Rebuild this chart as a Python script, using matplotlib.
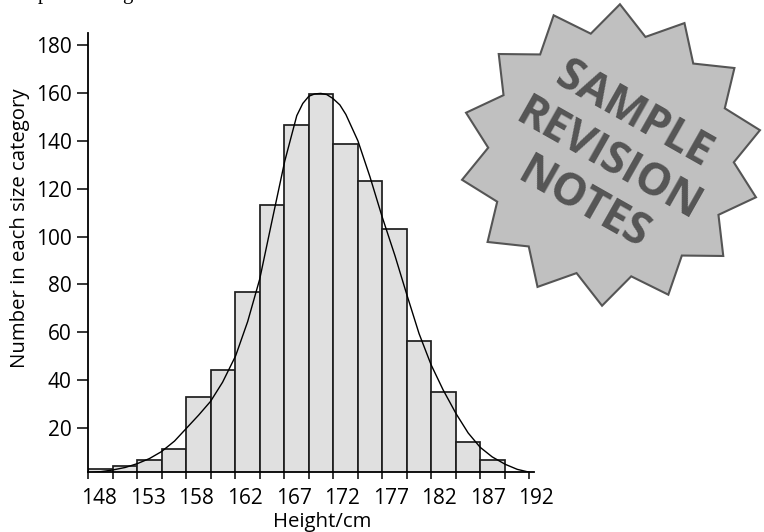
import numpy as np
import matplotlib
matplotlib.use("Agg")
import matplotlib.pyplot as plt
from matplotlib.patches import Polygon
from matplotlib.transforms import ScaledTranslation

# ---------------- data ----------------
bin_edges = [148.0, 150.44, 152.89, 155.33, 157.78, 160.22, 162.67, 165.11,
             167.56, 170.0, 172.44, 174.89, 177.33, 179.78, 182.22, 184.67,
             187.11, 189.56, 192.0]
counts = [2.9, 4.1, 6.5, 11.4, 33.2, 44.1, 76.8, 113.4, 146.5, 159.5,
          138.8, 123.3, 103.0, 56.5, 35.0, 14.3, 6.9]
x_tick_labels = ["148", "153", "158", "162", "167", "172", "177", "182", "187", "192"]
y_ticks = [20, 40, 60, 80, 100, 120, 140, 160, 180]

# fitted curve, points
curve_height = [148.0, 149.2, 150.4, 151.7, 152.9, 154.1, 155.3, 156.6, 157.8,
                159.0, 160.2, 161.4, 162.7, 163.9, 165.1, 166.3, 167.6, 168.8,
                169.4, 170.0, 170.6, 171.2, 171.8, 172.4, 173.1, 173.7, 174.9,
                176.1, 177.3, 178.6, 179.8, 181.0, 182.2, 183.4, 184.7, 185.9,
                187.1, 188.3, 189.6, 190.8, 192.0]
curve_count = [1.3, 1.8, 2.5, 3.6, 5.2, 7.3, 10.2, 14.6, 20.0,
               25.4, 31.2, 39.2, 50.2, 64.5, 82.2, 106.0, 131.5, 150.5,
               155.6, 158.6, 159.6, 159.8, 159.3, 157.7, 155.0, 151.0, 140.0,
               125.0, 108.5, 92.0, 75.5, 59.5, 46.5, 36.0, 26.0, 18.0,
               12.0, 8.0, 4.9, 2.8, 1.6]

x_label = "Height/cm"
y_label = "Number in each size category"
badge_text = "SAMPLE\nREVISION\nNOTES"

# ---------------- figure ----------------
W, H = 764, 532
plt.rcParams['font.family'] = ['Open Sans', 'DejaVu Sans']
fig = plt.figure(figsize=(W / 100, H / 100), dpi=100)
fig.patch.set_facecolor('white')

ax_left, ax_right, ax_top, ax_bottom = 88.3, 534.0, 33.3, 471.5
ax = fig.add_axes([ax_left / W, (H - ax_bottom) / H,
                   (ax_right - ax_left) / W, (ax_bottom - ax_top) / H])

n_bars = len(counts)
lefts = bin_edges[:n_bars]
widths = np.diff(bin_edges)[:n_bars]
ax.bar(lefts, counts, width=widths, align='edge',
       facecolor='#e0e0e0', edgecolor='#1e1e1e', linewidth=1.25, zorder=2)
ax.plot(curve_height, curve_count, color='black', linewidth=1.0, zorder=3,
        solid_joinstyle='round', antialiased=True)

ax.set_xlim(148.0, 192.47)
ax.set_ylim(1.9, 184.9)

for s in ['top', 'right']:
    ax.spines[s].set_visible(False)
for s in ['left', 'bottom']:
    ax.spines[s].set_linewidth(1.3)
    ax.spines[s].set_color('black')
    ax.spines[s].set_zorder(4)

ax.set_xticks(bin_edges[::2])
ax.set_xticklabels(x_tick_labels)
ax.set_xticks(bin_edges[1::2], minor=True)
ax.set_yticks(y_ticks)
ax.set_yticklabels([str(v) for v in y_ticks])

ax.tick_params(axis='x', which='both', direction='out', length=5, width=1.1,
               colors='black', labelsize=15, pad=7)
ax.tick_params(axis='y', which='both', direction='out', length=8, width=1.1,
               colors='black', labelsize=15, pad=4)

# labels sit slightly to the right of their tick marks (less so towards the right)
for k, lab in enumerate(ax.get_xticklabels()):
    dx_px = 10.9 - 0.43 * k
    lab.set_transform(lab.get_transform() +
                      ScaledTranslation(dx_px / 100, 0, fig.dpi_scale_trans))

fig.text(20 / W, 1 - 228 / H, y_label, rotation=90, ha='center', va='center',
         fontsize=14.7)
fig.text(322 / W, 1 - 527 / H, x_label, ha='center', va='baseline', fontsize=14.7)

# clipped fragments of the preceding text line at the very top
fig.text(38 / W, 1 + 0.5 / H, "p", family=['Liberation Serif'], fontsize=15,
         va='baseline', ha='left')
fig.text(122 / W, 1 + 0.5 / H, "g", family=['Liberation Serif'], fontsize=15,
         va='baseline', ha='left')

# ---------------- badge overlay ----------------
ov = fig.add_axes([0, 0, 1, 1], zorder=5)
ov.set_xlim(0, W)
ov.set_ylim(H, 0)
ov.axis('off')
ov.patch.set_alpha(0)

cx, cy, r_out, r_in, n_pts, a0 = 611, 155, 151, 123, 14, 86.6
verts = []
for k in range(2 * n_pts):
    a = np.deg2rad(a0 + k * 180.0 / n_pts)
    r = r_out if k % 2 == 0 else r_in
    verts.append((cx + r * np.cos(a), cy - r * np.sin(a)))
ov.add_patch(Polygon(verts, closed=True, facecolor='#c0c0c0',
                     edgecolor='#555555', linewidth=1.5, joinstyle='miter'))
ov.text(608, 160, badge_text, rotation=-29.5, rotation_mode='anchor',
        ha='center', va='center', multialignment='center', fontsize=31.5,
        fontweight='bold', color='#555555', linespacing=1.17,
        family=['Open Sans', 'DejaVu Sans'])

fig.savefig('out.png', dpi=100)
